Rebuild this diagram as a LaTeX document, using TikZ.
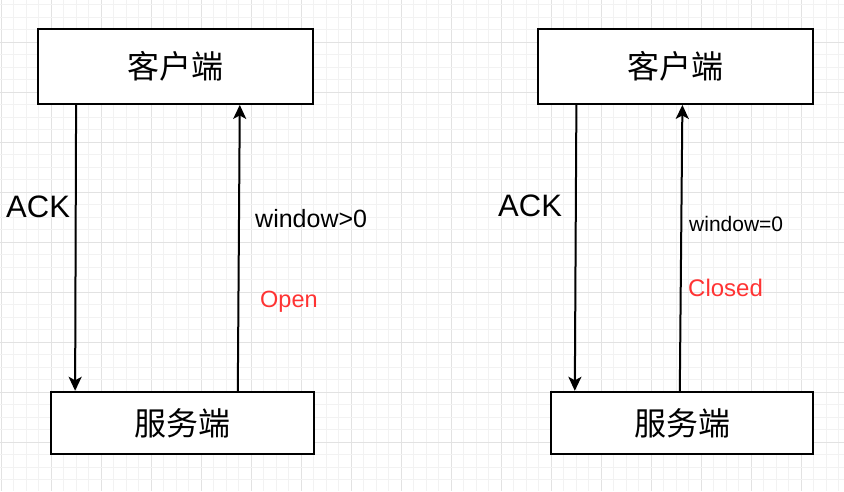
\documentclass[tikz,border=0pt]{standalone}
\usepackage{fontspec}
\setmainfont{Liberation Sans}
\newfontfamily\cjk{Noto Sans CJK SC}
\usetikzlibrary{arrows.meta}
\definecolor{gridminor}{HTML}{F2F2F2}
\definecolor{gridmajor}{HTML}{E2E2E2}
\definecolor{redtxt}{HTML}{FF3333}
\begin{document}
\begin{tikzpicture}[x=1pt,y=-1pt,
  box/.style={draw=black, line width=1.8pt, fill=white, inner sep=0pt,
    font=\cjk\fontsize{32}{32}\selectfont},
  arr/.style={draw=black, line width=2pt, -{Stealth[length=14pt,width=13pt,inset=3.5pt]}},
  lbl/.style={inner sep=0pt, anchor=base west}]
\useasboundingbox (0,0) rectangle (844,491);
\fill[white] (0,0) rectangle (844,491);
% grid
\foreach \i in {0,...,67}{
  \pgfmathsetmacro{\xx}{1.3+12.5*\i}
  \pgfmathtruncatemacro{\mm}{mod(\i,4)}
  \ifnum\mm=0
    \draw[gridmajor, line width=0.8pt] (\xx,0) -- (\xx,491);
  \else
    \draw[gridminor, line width=0.8pt] (\xx,0) -- (\xx,491);
  \fi
}
\foreach \i in {0,...,39}{
  \pgfmathsetmacro{\yy}{4.8+12.5*\i}
  \pgfmathtruncatemacro{\mm}{mod(\i,4)}
  \ifnum\mm=3
    \draw[gridmajor, line width=0.8pt] (0,\yy) -- (844,\yy);
  \else
    \draw[gridminor, line width=0.8pt] (0,\yy) -- (844,\yy);
  \fi
}
% boxes
\node[box, minimum width=275.6pt, minimum height=75pt] (tl) at (175.5,66.5) {客户端};
\node[box, minimum width=263.3pt, minimum height=62.3pt] (bl) at (182.35,422.85) {服务端};
\node[box, minimum width=275.6pt, minimum height=75pt] (tr) at (675.5,66.5) {客户端};
\node[box, minimum width=262.6pt, minimum height=62.3pt] (br) at (682,422.85) {服务端};
% connector endpoints
\coordinate (a1) at ([xshift=39.3pt]tl.south west);
\coordinate (a2) at ([xshift=25.3pt]bl.north west);
\coordinate (b1) at ([xshift=188pt]bl.north west);
\coordinate (b2) at ([xshift=203pt]tl.south west);
\coordinate (c1) at ([xshift=39.6pt]tr.south west);
\coordinate (c2) at ([xshift=25pt]br.north west);
\coordinate (d1) at ([xshift=130pt]br.north west);
\coordinate (d2) at ([xshift=145.6pt]tr.south west);
\draw[arr] (a1) -- (a2);
\draw[arr] (b1) -- (b2);
\draw[arr] (c1) -- (c2);
\draw[arr] (d1) -- (d2);
% labels
\node[lbl, font=\fontsize{31}{31}\selectfont] (ack1) at (6,217) {ACK};
\node[lbl, font=\fontsize{25}{25}\selectfont] (w1) at (255,227.7) {window>0};
\node[lbl, font=\fontsize{23.5}{23.5}\selectfont, text=redtxt] (o1) at (260,307.7) {Open};
\node[lbl, font=\fontsize{31}{31}\selectfont] (ack2) at (498,216) {ACK};
\node[lbl, font=\fontsize{21}{21}\selectfont] (w2) at (689,231.7) {window=0};
\node[lbl, font=\fontsize{24}{24}\selectfont, text=redtxt] (c2l) at (688,296) {Closed};
\end{tikzpicture}
\end{document}
